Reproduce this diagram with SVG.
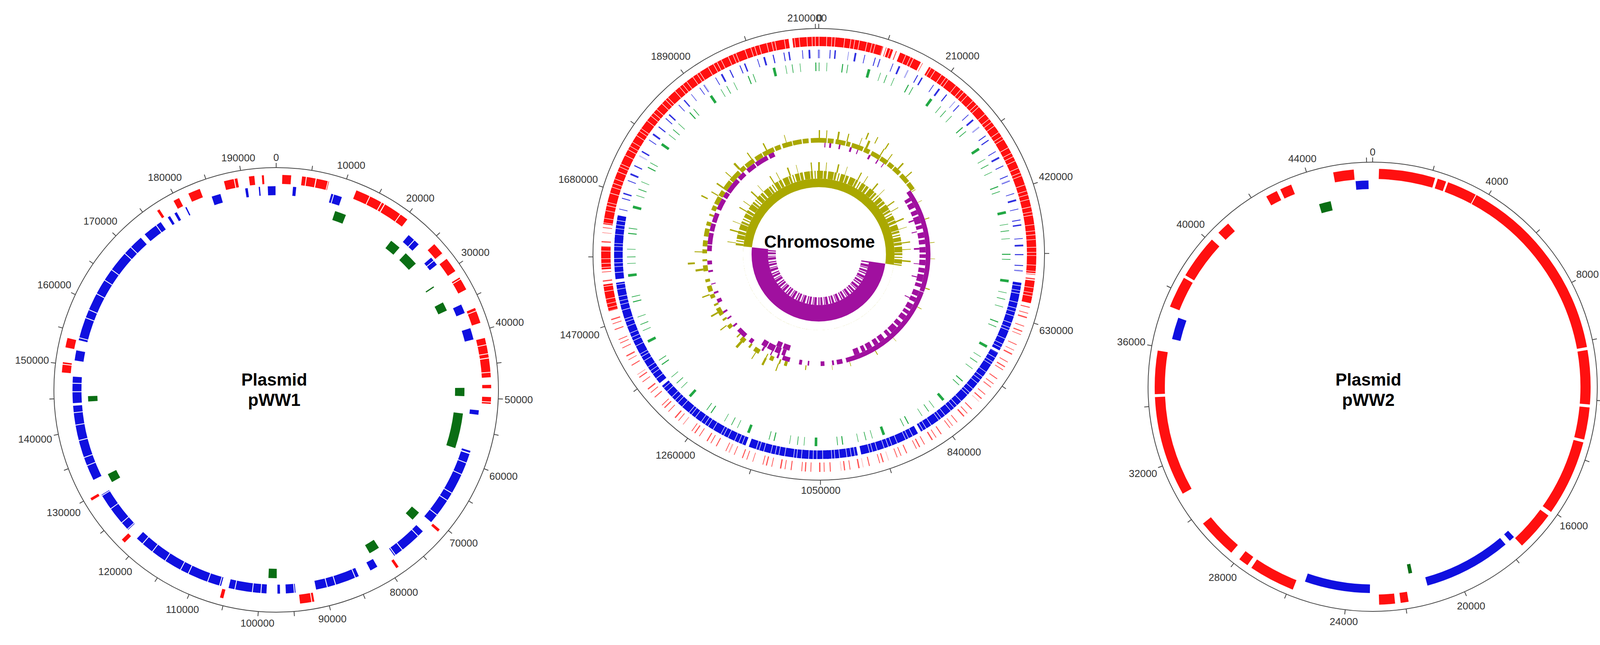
<svg xmlns="http://www.w3.org/2000/svg" width="4215" height="1651" viewBox="0 0 4215 1651">
<style>
.t{font-family:"Liberation Sans",Arial,sans-serif;font-size:26px;fill:#333;text-anchor:middle;dominant-baseline:central}
.title{font-family:"Liberation Sans",Arial,sans-serif;font-size:44px;font-weight:bold;fill:#000;text-anchor:middle;dominant-baseline:central}
circle{fill:none}
.axis{stroke:#444;stroke-width:2}
.tick{stroke:#444;stroke-width:12}
.red{stroke:#ff1010}
.blue{stroke:#1010e0}
.dg{stroke:#0a6e14}
.lg{stroke:#22a844}
.ol{stroke:#aaa800}
.pu{stroke:#a0109f}
.wh{stroke:#fff}
</style>
<rect width="4215" height="1651" fill="#fff"/>
<g id="connectors"/>

<g id="pWW1">
<circle class="axis" cx="707" cy="998" r="569"/>
<circle class="tick" cx="707" cy="998" r="575" pathLength="195000" transform="rotate(-90 707 998)" stroke-dasharray="108 4892" stroke-dashoffset="54"/>
<line x1="707" y1="429" x2="707" y2="417" stroke="#444" stroke-width="2"/>
<circle class="red" cx="707" cy="998" r="539" stroke-width="23" pathLength="197000" transform="rotate(-90 707 998)" stroke-dasharray="0 900 1300 1600 2000 150 1850 4200 4500 150 3950 5300 1900 900 2200 1100 2000 3000 2300 2300 2900 150 2750 1100 500 1300 1000 20100 400 7700 400 13000 2100 11300 500 16200 600 7200 400 19100 1500 2100 1500 23200 400 2400 900 1500 1800 3700 2000 1700 800 1100 300 1800"/>
<circle class="blue" cx="707" cy="998" r="510" stroke-width="23" pathLength="197000" transform="rotate(-90 707 998)" stroke-dasharray="0 2600 500 5500 1700 11900 2100 2800 1400 7200 1400 2500 1800 11000 700 5700 300 200 12100 1900 5800 3100 1200 2000 6900 3200 1500 900 400 1700 5900 1200 15000 1900 6800 2600 11900 400 4100 2500 1700 1500 18700 800 3100 1300 400 800 400 1500 200 4200 1400 3900 400 1700 200 1200 1200 100"/>
<circle class="wh" cx="707" cy="998" r="525" stroke-width="56" pathLength="197000" transform="rotate(-90 707 998)" stroke-dasharray="130 2300 130 1800 130 3100 130 1200 130 2600"/>
<circle class="dg" cx="707" cy="998" r="470" stroke-width="24" pathLength="197000" transform="rotate(-90 707 998)" stroke-dasharray="0 10000 1900 8700 1800 1400 2400 4800 200 2900 1500 13300 1400 2900 5900 12400 1600 7300 1800 16200 1400 31900 1500 12600 900 50300"/>
<text class="t" x="707" y="403">0</text>
<text class="t" x="899" y="423">10000</text>
<text class="t" x="1076" y="507">20000</text>
<text class="t" x="1217" y="646">30000</text>
<text class="t" x="1305" y="825">40000</text>
<text class="t" x="1328" y="1023">50000</text>
<text class="t" x="1289" y="1219">60000</text>
<text class="t" x="1187" y="1390">70000</text>
<text class="t" x="1034" y="1516">80000</text>
<text class="t" x="851" y="1584">90000</text>
<text class="t" x="659" y="1595">100000</text>
<text class="t" x="467" y="1560">110000</text>
<text class="t" x="295" y="1463">120000</text>
<text class="t" x="163" y="1312">130000</text>
<text class="t" x="90" y="1124">140000</text>
<text class="t" x="82" y="922">150000</text>
<text class="t" x="139" y="729">160000</text>
<text class="t" x="257" y="566">170000</text>
<text class="t" x="422" y="454">180000</text>
<text class="t" x="610" y="404">190000</text>
<text class="title" x="702" y="971">Plasmid</text>
<text class="title" x="702" y="1023">pWW1</text>
</g>

<g id="chromosome">
<circle class="axis" cx="2096" cy="651" r="578"/>
<circle class="tick" cx="2096" cy="651" r="584" pathLength="2105000" transform="rotate(-90 2096 651)" stroke-dasharray="1150 103850" stroke-dashoffset="575"/>
<line x1="2096" y1="73" x2="2096" y2="61" stroke="#444" stroke-width="2"/>
<circle cx="2096" cy="651" r="545" stroke="#ff5050" stroke-width="24" pathLength="360" transform="rotate(-90 2096 651)" stroke-dasharray="0.25 1.4 0.2 0.9 0.35 2.1 0.2 1.2 0.3 0.7 0.2 2.6"/>
<circle class="red" cx="2096" cy="651" r="545" stroke-width="24" pathLength="360" transform="rotate(-90 2096 651)" stroke-dasharray="17 1.5 1.5 2 6 2.5 64.5 2 6 152 7 4 6 6 74 1 7"/>
<circle cx="2096" cy="651" r="513" stroke="#3030e0" stroke-width="22" pathLength="360" transform="rotate(-90 2096 651)" stroke-dasharray="0.3 2.8 0.25 1.1 0.4 3.5 0.2 1.6 0.5 2.2"/>
<circle class="blue" cx="2096" cy="651" r="513" stroke-width="22" pathLength="360" transform="rotate(-90 2096 651)" stroke-dasharray="0 98 20 1 31 1 17 1 31 1 29 1 31 1 18 79"/>
<circle class="wh" cx="2096" cy="651" r="529" stroke-width="56" pathLength="360" transform="rotate(-90 2096 651)" stroke-dasharray="0.15 1.9 0.15 1.2 0.15 0.7 0.15 2.4 0.15 1.5 0.15 0.9 0.15 1.1"/>
<circle class="lg" cx="2096" cy="651" r="480" stroke-width="22" pathLength="360" transform="rotate(-90 2096 651)" stroke-dasharray="0.2 2.2 0.15 4.5 0.3 1.3 0.2 6 0.8 3.1 0.15 1.8"/>
<circle class="ol" cx="2096" cy="651" r="292" stroke-width="12" pathLength="360" transform="rotate(-90 2096 651)" stroke-dasharray="4 .5 3 1 5 .5 2 .8 6 .6 3 1 5 .4 4 .7 3 .5 4 1 5 .5 4 .5 .3 6 .2 9 .4 12 .3 8 .2 15 .5 10 .3 20 .2 11 .4 14 .3 9 .2 13 .5 9.2 1.5 2 .8 3 2 1.5 .5 4 3 2 1 3 2.5 1.5 .7 5 2 3 1 2 4 1.5 1 3 2 1.5 3 2 1.5 4 3 2 1 3 2 1.5 3 2 4 1.5 2 3 1 2 2.5 1 4 .5 3 1 5 .5 6 .8 3 .6 5 1 4 .5 6 .6 3 1 5 .4 4.5 .5 3 1.1"/>
<circle class="ol" cx="2096" cy="651" r="308" stroke-width="20" pathLength="360" transform="rotate(-90 2096 651)" stroke-dasharray=".6 3 .4 5 .8 4 .5 6 .3 3 1 7 .5 4 .4 6 .7 5 .5 11.3 0 140 .5 6 1 5 .4 8 1.2 10 .5 7 .8 9 .6 12 1 8 .4 28.6 .5 4 .7 6 .4 5 1 7 .5 8 .6 10 .3 16"/>
<circle class="ol" cx="2096" cy="651" r="327" stroke-width="18" pathLength="360" transform="rotate(-90 2096 651)" stroke-dasharray="0 22 .6 4 .4 5 .5 233 .8 30 .6 63.1"/>
<circle class="pu" cx="2096" cy="651" r="280" stroke-width="12" pathLength="360" transform="rotate(-90 2096 651)" stroke-dasharray="0 3 .5 2 1 4 .8 5 1 3 .5 6 1 4 .6 3 .4 19.2 54.7 .3 55 0 .5 2 3 1.5 1 4 2 6 .8 3 1.5 5 4 2 1 3 .6 4 1 6 2 3 5 2.5 1 4 .8 3 1 5 2 3 1 4 .5 6 1 3 2 5 3 .5 6 1 4 .8 5 2 6 1 3 .5 8 1 4 2 5 .6 7 1 3 23.9"/>
<circle class="pu" cx="2096" cy="651" r="266" stroke-width="16" pathLength="360" transform="rotate(-90 2096 651)" stroke-dasharray="0 58 2 1 3 1.5 2.5 1 4 1 2 2 3 1 2.5 1.5 3 1 2 1 3 1.5 2.5 1 4 1 2 2 3 1 2.5 1.5 3 1 2 1 3 1.5 2.5 1 4 1 2 2 3 1 2.5 1.5 3 1 2 1.5 3 3 0 35 2 1 3 .5 4 .5 3 1 0 145"/>
<circle class="pu" cx="2096" cy="651" r="251" stroke-width="14" pathLength="360" transform="rotate(-90 2096 651)" stroke-dasharray="0 70 .8 6 .5 9 1 8 .4 7 .6 12 .5 81.2 4 1 3 155"/>
<circle class="ol" cx="2096" cy="651" r="204" stroke-width="20" pathLength="360" transform="rotate(-90 2096 651)" stroke-dasharray="3 .6 2 1 4 .5 1.5 1.2 .8 1"/>
<circle class="ol" cx="2096" cy="651" r="225" stroke-width="22" pathLength="360" transform="rotate(-90 2096 651)" stroke-dasharray=".7 4 .4 7 .9 5 .3 9"/>
<circle class="wh" cx="2096" cy="651" r="218" stroke-width="48" pathLength="360" transform="rotate(-90 2096 651)" stroke-dasharray="0 98 178 84"/>
<circle class="ol" cx="2096" cy="651" r="183" stroke-width="22" pathLength="360" transform="rotate(-90 2096 651)" stroke-dasharray="98 178 84"/>
<circle class="pu" cx="2096" cy="651" r="151" stroke-width="42" pathLength="360" transform="rotate(-90 2096 651)" stroke-dasharray="0 98 178 84"/>
<circle class="pu" cx="2096" cy="651" r="120" stroke-width="20" pathLength="360" transform="rotate(-90 2096 651)" stroke-dasharray="2.5 1 1.5 2 3 .7 1 1.8"/>
<circle class="wh" cx="2096" cy="651" r="112" stroke-width="38" pathLength="360" transform="rotate(-90 2096 651)" stroke-dasharray="98 178 84"/>
<text class="t" x="2066" y="46">2100000</text>
<text class="t" x="2098" y="46">0</text>
<text class="t" x="2464" y="143">210000</text>
<text class="t" x="2703" y="452">420000</text>
<text class="t" x="2704" y="846">630000</text>
<text class="t" x="2468" y="1157">840000</text>
<text class="t" x="2101" y="1255">1050000</text>
<text class="t" x="1729" y="1165">1260000</text>
<text class="t" x="1484" y="857">1470000</text>
<text class="t" x="1480" y="459">1680000</text>
<text class="t" x="1717" y="144">1890000</text>
<text class="title" x="2098" y="618">Chromosome</text>
</g>

<g id="pWW2">
<circle class="axis" cx="3514" cy="990" r="575"/>
<circle class="tick" cx="3514" cy="990" r="581" pathLength="46200" transform="rotate(-90 3514 990)" stroke-dasharray="26 1974" stroke-dashoffset="13"/>
<line x1="3514" y1="415" x2="3514" y2="403" stroke="#444" stroke-width="2"/>
<circle class="red" cx="3514" cy="990" r="545" stroke-width="26" pathLength="46200" transform="rotate(-90 3514 990)" stroke-dasharray="0 215 1925 90 300 70 1020 30 6550 100 1850 100 1100 100 2600 150 1350 4330 270 190 540 2980 1580 160 340 350 1370 1220 3420 100 1480 1540 1080 100 1500 320 450 1580 400 130 400 1480 700 640"/>
<circle class="blue" cx="3514" cy="990" r="517" stroke-width="22" pathLength="46200" transform="rotate(-90 3514 990)" stroke-dasharray="0 17550 200 200 3170 2080 2360 10810 790 8430 460 150"/>
<circle class="dg" cx="3514" cy="990" r="475" stroke-width="24" pathLength="46200" transform="rotate(-90 3514 990)" stroke-dasharray="0 21560 140 22400 460 1640"/>
<text class="t" x="3514" y="389">0</text>
<text class="t" x="3832" y="464">4000</text>
<text class="t" x="4064" y="702">8000</text>
<text class="t" x="4130" y="1028">12000</text>
<text class="t" x="4029" y="1346">16000</text>
<text class="t" x="3766" y="1551">20000</text>
<text class="t" x="3440" y="1591">24000</text>
<text class="t" x="3130" y="1478">28000</text>
<text class="t" x="2926" y="1212">32000</text>
<text class="t" x="2896" y="875">36000</text>
<text class="t" x="3048" y="574">40000</text>
<text class="t" x="3334" y="406">44000</text>
<text class="title" x="3503" y="971">Plasmid</text>
<text class="title" x="3503" y="1023">pWW2</text>
</g>
</svg>
